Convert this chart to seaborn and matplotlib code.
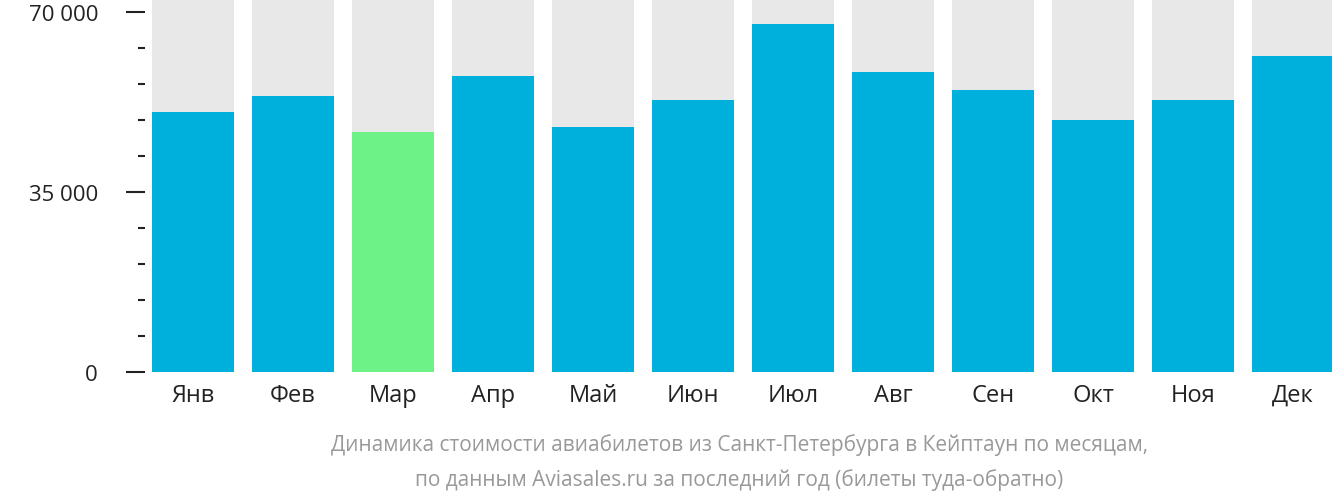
import matplotlib
matplotlib.use("Agg")
import matplotlib.pyplot as plt
import seaborn as sns
import numpy as np

# --- DATA ---
months = ["Янв", "Фев", "Мар", "Апр", "Май", "Июн", "Июл", "Авг", "Сен", "Окт", "Ноя", "Дек"]
prices = [50700, 53700, 46700, 57600, 47700, 52900, 67800, 58400, 54900, 49000, 52900, 61500]
y_ticks = [0, 35000, 70000]
y_tick_labels = ["0 ₽", "35 000 ₽", "70 000 ₽"]

plt.rcParams["font.family"] = "Open Sans"
fig = plt.figure(figsize=(13.32, 5.02), dpi=100)
ax = fig.add_axes([145 / 1332, 1 - 373 / 502, 1187 / 1332, 373 / 502])

top = 72600
x = np.arange(len(months))
ax.bar(x, [top] * len(months), width=0.82, color="#e8e8e8", zorder=1)
colors = ["#6cf287" if p == min(prices) else "#00b0dc" for p in prices]
sns.barplot(x=x, y=prices, palette=colors, hue=x, legend=False, width=0.82,
            saturation=1, ax=ax, zorder=2, native_scale=True)

ax.set_xlim(-0.48, 11.39)
ax.set_ylim(0, top)
ax.set_yticks(y_ticks)
ax.set_yticklabels(y_tick_labels, fontsize=16, color="#222222")
ax.set_yticks(np.arange(7000, 70000, 7000), minor=True)
ax.tick_params(axis="y", which="major", length=14, width=1.5, color="#222222", pad=6)
ax.tick_params(axis="y", which="minor", length=5, width=1.5, color="#222222")
ax.set_xticks(x)
ax.set_xticklabels(months, fontsize=17, color="#222222")
ax.tick_params(axis="x", length=0, pad=8)
for s in ax.spines.values():
    s.set_visible(False)
ax.set_xlabel("")
ax.set_ylabel("")

fig.text(0.555, 1 - 445 / 502, "Динамика стоимости авиабилетов из Санкт-Петербурга в Кейптаун по месяцам,",
         ha="center", va="center", fontsize=15, color="#999999")
fig.text(0.555, 1 - 480 / 502, "по данным Aviasales.ru за последний год (билеты туда-обратно)",
         ha="center", va="center", fontsize=15, color="#999999")

fig.savefig("out.png", dpi=100)
